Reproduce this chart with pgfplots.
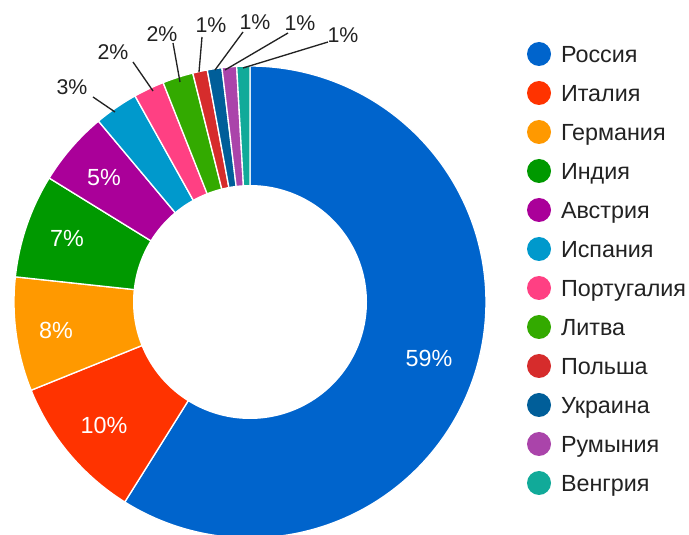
\documentclass[border=0pt]{standalone}
\usepackage{fontspec}
\setmainfont{Liberation Sans}
\usepackage{pgfplots}
\pgfplotsset{compat=1.18}
\usepackage{pgfplotstable}
\definecolor{cRu}{HTML}{0064CC}
\definecolor{cIt}{HTML}{FF3300}
\definecolor{cDe}{HTML}{FF9900}
\definecolor{cIn}{HTML}{009900}
\definecolor{cAt}{HTML}{AA0099}
\definecolor{cEs}{HTML}{0099CC}
\definecolor{cPt}{HTML}{FF4083}
\definecolor{cLt}{HTML}{33AA00}
\definecolor{cPl}{HTML}{D62C2C}
\definecolor{cUa}{HTML}{005E99}
\definecolor{cRo}{HTML}{AA44AA}
\definecolor{cHu}{HTML}{11AA99}
\definecolor{txt}{HTML}{222222}
\pgfplotstableread{
name value col
Россия 58.9 cRu
Италия 10.0 cIt
Германия 7.8 cDe
Индия 7.1 cIn
Австрия 5.1 cAt
Испания 3.0 cEs
Португалия 2.1 cPt
Литва 2.1 cLt
Польша 1.0 cPl
Украина 1.0 cUa
Румыния 1.0 cRo
Венгрия 0.9 cHu
}\datatable
\begin{document}
\begin{tikzpicture}
\begin{axis}[
  width=516.75pt, height=401.25pt, scale only axis,
  xmin=0, xmax=689, ymin=0, ymax=535,
  hide axis, clip=true,
  legend style={at={(axis cs:527,493)}, anchor=north west, draw=none, fill=none,
    inner sep=0pt, outer sep=0pt, row sep=11.25pt, column sep=7.5pt,
    nodes={inner sep=0pt, text depth=0pt, text height=12.6pt, anchor=west,
      font=\fontsize{17.5}{17.5}\selectfont, text=txt}},
  legend image code/.code={\fill[#1,draw=none] (9pt,0pt) circle (9pt);},
]
\xdef\cum{0}
\pgfplotsforeachungrouped \i in {0,...,11}{%
  \pgfplotstablegetelem{\i}{value}\of\datatable \let\val\pgfplotsretval
  \pgfplotstablegetelem{\i}{col}\of\datatable \let\col\pgfplotsretval
  \pgfplotstablegetelem{\i}{name}\of\datatable \let\nm\pgfplotsretval
  \pgfmathsetmacro\aS{90-3.6*\cum}%
  \pgfmathsetmacro\aE{90-3.6*(\cum+\val)}%
  \edef\doit{\noexpand\addplot[fill=\col, draw=white, line width=1pt, domain=\aE:\aS, samples=150] ({250+236*cos(x)},{233+236*sin(x)}) -- (axis cs:250,233) -- cycle; \noexpand\addlegendentry{\nm}}%
  \doit
  \pgfmathsetmacro\tmp{\cum+\val}\xdef\cum{\tmp}%
}
\addplot[forget plot, fill=white, draw=none, domain=0:360, samples=200] ({250+117*cos(x)},{233+117*sin(x)}) -- cycle;
% leader lines
\addplot[forget plot, color=txt, line width=1pt] coordinates {(93,438) (115,423)};
\addplot[forget plot, color=txt, line width=1pt] coordinates {(133,473) (153,444)};
\addplot[forget plot, color=txt, line width=1pt] coordinates {(173,492) (180,453)};
\addplot[forget plot, color=txt, line width=1pt] coordinates {(202,498) (199,463)};
\addplot[forget plot, color=txt, line width=1pt] coordinates {(243,503) (215,465)};
\addplot[forget plot, color=txt, line width=1pt] coordinates {(288,502) (225,465)};
\addplot[forget plot, color=txt, line width=1pt] coordinates {(328,493) (243,467)};
% inside labels
\node[font=\fontsize{17.5}{17.5}\selectfont, text=white] at (axis cs:429,177) {59\%};
\node[font=\fontsize{17.5}{17.5}\selectfont, text=white] at (axis cs:104,110) {10\%};
\node[font=\fontsize{17.5}{17.5}\selectfont, text=white] at (axis cs:56,205) {8\%};
\node[font=\fontsize{17.5}{17.5}\selectfont, text=white] at (axis cs:67,297) {7\%};
\node[font=\fontsize{17.5}{17.5}\selectfont, text=white] at (axis cs:104,357) {5\%};
% outside labels
\node[font=\fontsize{16}{16}\selectfont, text=txt] at (axis cs:72,448) {3\%};
\node[font=\fontsize{16}{16}\selectfont, text=txt] at (axis cs:113,483) {2\%};
\node[font=\fontsize{16}{16}\selectfont, text=txt] at (axis cs:162,501) {2\%};
\node[font=\fontsize{16}{16}\selectfont, text=txt] at (axis cs:211,510) {1\%};
\node[font=\fontsize{16}{16}\selectfont, text=txt] at (axis cs:255,513) {1\%};
\node[font=\fontsize{16}{16}\selectfont, text=txt] at (axis cs:300,512) {1\%};
\node[font=\fontsize{16}{16}\selectfont, text=txt] at (axis cs:343,500) {1\%};
\end{axis}
\pgfresetboundingbox
\useasboundingbox (current axis.south west) rectangle (current axis.north east);
\end{tikzpicture}
\end{document}
